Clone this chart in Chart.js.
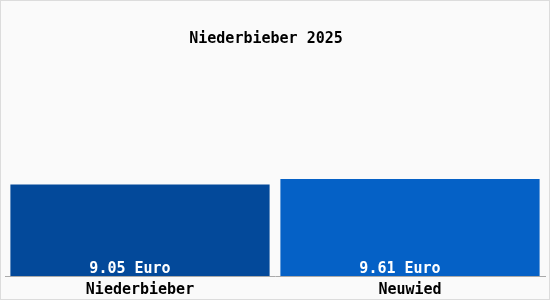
<!DOCTYPE html>
<html>
<head>
<meta charset="utf-8">
<script src="https://cdn.jsdelivr.net/npm/chart.js@4"></script>
<style>
    body { margin: 0; background: #fff; }
    #wrap { position: relative; width: 550px; height: 300px; box-sizing: border-box; border: 1px solid #dcdcdc; background: #fafafa; overflow: hidden; }
    #wrap canvas { display: block; }
</style>
</head>
<body>
<div id="wrap"><canvas id="priceChart" width="548" height="304"></canvas></div>
<script>
const categories = ['Niederbieber', 'Neuwied'];
const prices = [9.05, 9.61];
const barColors = ['#03499a', '#0561c6'];
const chartTitle = 'Niederbieber 2025';
const monoFont = '"DejaVu Sans Mono", "Liberation Mono", monospace';

// title + value labels drawn by hand
const textPlugin = {
    id: 'texts',
    afterDatasetsDraw(chart) {
        const ctx = chart.ctx;
        ctx.save();
        ctx.font = 'bold 15px ' + monoFont;
        ctx.textAlign = 'center';
        ctx.textBaseline = 'alphabetic';
        ctx.fillStyle = '#000';
        ctx.fillText(chartTitle, 265, 42);
        ctx.fillStyle = '#fff';
        chart.getDatasetMeta(0).data.forEach((bar, i) => {
            ctx.fillText(prices[i].toFixed(2) + ' Euro', bar.x - 10, bar.base - 3);
        });
        ctx.restore();
    }
};

new Chart(document.getElementById('priceChart'), {
    type: 'bar',
    data: {
        labels: categories,
        datasets: [{
            data: prices,
            backgroundColor: barColors,
            barPercentage: 0.96,
            categoryPercentage: 1.0
        }]
    },
    options: {
        responsive: false,
        animation: false,
        layout: { padding: { left: 4, right: 4, top: 73, bottom: 0 } },
        plugins: { legend: { display: false }, tooltip: { enabled: false } },
        scales: {
            x: {
                grid: { display: false, drawTicks: false },
                border: { color: '#aaaaaa', width: 1 },
                ticks: { color: '#000', font: { family: monoFont, size: 15, weight: 'bold', lineHeight: 1.0 }, padding: 7 }
            },
            y: {
                display: false,
                min: 0,
                max: 20
            }
        }
    },
    plugins: [textPlugin]
});
</script>
</body>
</html>
